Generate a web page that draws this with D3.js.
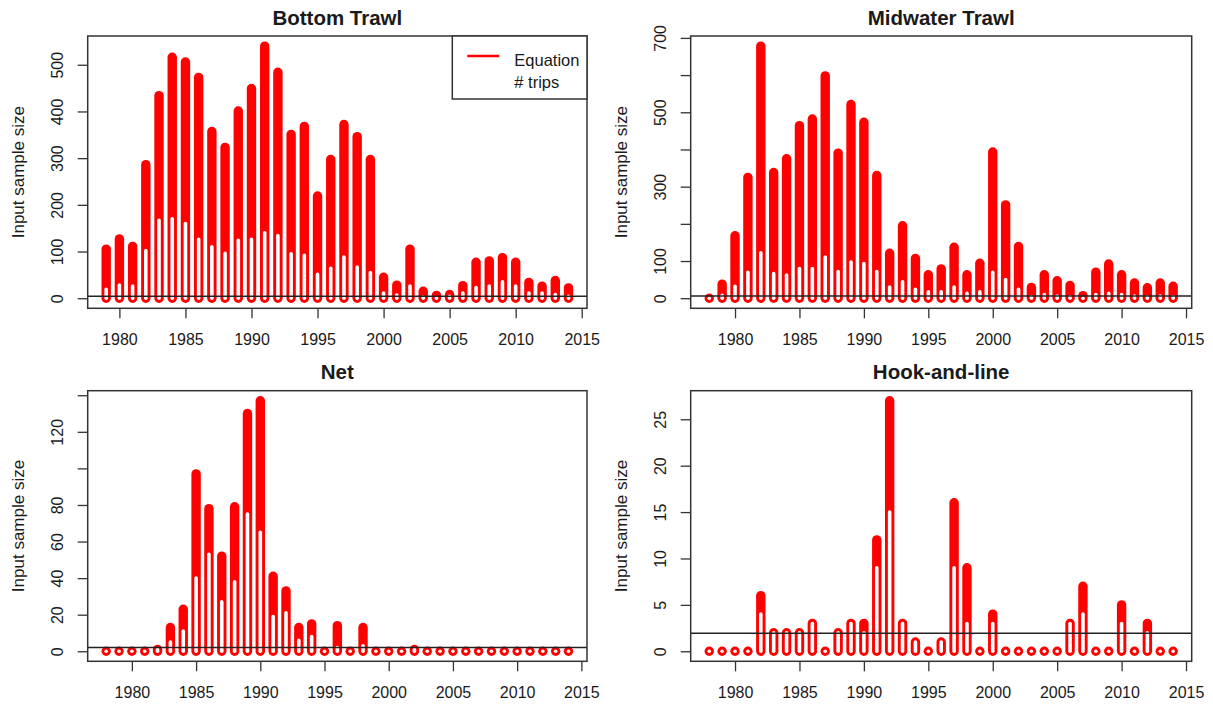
<!DOCTYPE html>
<html lang="en">
<head>
  <meta charset="UTF-8">
  <title>Input sample size</title>
  <style>
    body { margin: 0; background: #fff; }
    text { font-family: "Liberation Sans", Arial, sans-serif; fill: #1a1a1a; }
  </style>
</head>
<body>

  <svg id="svg" width="1213" height="706"></svg>

  <script src="https://d3js.org/d3.v7.min.js"></script>
  <script>
    // years (bottom trawl starts one year later)
    const years = [1978, 1979, 1980, 1981, 1982, 1983, 1984, 1985, 1986, 1987, 1988, 1989,
      1990, 1991, 1992, 1993, 1994, 1995, 1996, 1997, 1998, 1999, 2000, 2001, 2002,
      2003, 2004, 2005, 2006, 2007, 2008, 2009, 2010, 2011, 2012, 2013, 2014]
    const bottomYears = years.slice(1)

    const bottomEquation = [105, 127, 111, 286, 434, 516, 506, 473, 357, 323, 401, 449,
      540, 484, 351, 368, 219, 297, 372, 346, 297, 45, 28, 105, 15, 6, 8, 27, 77, 80, 87,
      77, 34, 26, 38, 22]
    const bottomTrips = [19, 28, 26, 102, 167, 170, 160, 126, 110, 96, 124, 126, 140, 134,
      95, 92, 51, 64, 88, 67, 55, 11, 7, 26, 2, 1, 4, 11, 23, 26, 35, 26, 11, 11, 8, 4]

    const midEquation = [0, 38, 168, 325, 678, 338, 375, 464, 482, 598, 390, 521, 473, 330,
      121, 195, 107, 63, 79, 137, 63, 94, 393, 251, 139, 29, 63, 47, 34, 7, 70, 92, 63, 41,
      28, 41, 32]
    const midTrips = [0, 8, 32, 70, 122, 66, 62, 80, 80, 111, 72, 97, 93, 72, 30, 44, 24, 17,
      17, 30, 13, 17, 70, 50, 24, 4, 10, 6, 4, 0, 10, 13, 10, 6, 4, 6, 4]

    const netEquation = [0, 0, 0, 0, 1, 13, 23, 97, 78, 52, 79, 130, 137, 41, 33, 13, 15, 0,
      14, 0, 13, 0, 0, 0, 1, 0, 0, 0, 0, 0, 0, 0, 0, 0, 0, 0, 0]
    const netTrips = [0, 0, 0, 0, 1, 5, 11, 40, 53, 27, 38, 75, 65, 19, 21, 6, 8, 0, 2, 0, 3,
      0, 0, 0, 1, 0, 0, 0, 0, 0, 0, 0, 0, 0, 0, 0, 0]

    const hookEquation = [0, 0, 0, 0, 6, 2, 2, 2, 3, 0, 2, 3, 3, 12, 27, 3, 1, 0, 1, 16, 9,
      0, 4, 0, 0, 0, 0, 0, 3, 7, 0, 0, 5, 0, 3, 0, 0]
    const hookTrips = [0, 0, 0, 0, 4, 2, 2, 2, 3, 0, 2, 3, 2, 9, 15, 3, 1, 0, 1, 9, 3, 0, 3,
      0, 0, 0, 0, 0, 3, 4, 0, 0, 3, 0, 2, 0, 0]

    // horizontal reference lines
    const refLines = [4, 6, 2, 1.95]

    // axis ticks and labels
    const xTicks = [1980, 1985, 1990, 1995, 2000, 2005, 2010, 2015]
    const bottomTicks = [0, 100, 200, 300, 400, 500]
    const bottomLabels = [0, 100, 200, 300, 400, 500]
    const midTicks = [0, 100, 200, 300, 400, 500, 600, 700]
    const midLabels = [0, 100, 300, 500, 700]
    const netTicks = [0, 20, 40, 60, 80, 100, 120, 140]
    const netLabels = [0, 20, 40, 60, 80, 120]
    const hookTicks = [0, 5, 10, 15, 20, 25]
    const hookLabels = [0, 5, 10, 15, 20, 25]

    const titles = ['Bottom Trawl', 'Midwater Trawl', 'Net', 'Hook-and-line']
    const legendLabels = ['Equation', '# trips']

    const panels = [
      { years: bottomYears, eq: bottomEquation, trips: bottomTrips, ticks: bottomTicks, labels: bottomLabels,
        box: [87.7, 587, 36, 308.3], legend: true },
      { years: years, eq: midEquation, trips: midTrips, ticks: midTicks, labels: midLabels,
        box: [690.7, 1191.7, 36, 308.3] },
      { years: years, eq: netEquation, trips: netTrips, ticks: netTicks, labels: netLabels,
        box: [87.7, 587, 390.7, 661.3] },
      { years: years, eq: hookEquation, trips: hookTrips, ticks: hookTicks, labels: hookLabels,
        box: [690.7, 1191.7, 390.7, 661.3] }
    ]

    const svg = d3.select('#svg')
    svg.append('rect').attr('width', 1213).attr('height', 706).attr('fill', 'white')

    const redR = 4.7
    const whiteR = 1.8
    const font = '"Liberation Sans", Arial, sans-serif'

    panels.forEach((p, i) => {
      const [left, right, top, bottom] = p.box
      const g = svg.append('g')

      const xExt = d3.extent(p.years)
      const xPad = (xExt[1] - xExt[0]) * 0.04
      const x = d3.scaleLinear().domain([xExt[0] - xPad, xExt[1] + xPad]).range([left, right])
      const yMax = d3.max(p.eq)
      const y = d3.scaleLinear().domain([-0.04 * yMax, 1.04 * yMax]).range([bottom, top])

      const rows = p.years.map((yr, j) => ({ yr: yr, eq: p.eq[j], trips: p.trips[j] }))

      // thick red bars (equation) with round ends
      g.selectAll('rect.eq')
        .data(rows)
        .enter()
        .append('rect')
        .attr('class', 'eq')
        .attr('x', d => x(d.yr) - redR)
        .attr('y', d => y(d.eq) - redR)
        .attr('width', 2 * redR)
        .attr('height', d => y(0) - y(d.eq) + 2 * redR)
        .attr('rx', redR)
        .attr('fill', '#ff0000')

      // thin white bars (# trips)
      g.selectAll('rect.trips')
        .data(rows)
        .enter()
        .append('rect')
        .attr('class', 'trips')
        .attr('x', d => x(d.yr) - whiteR)
        .attr('y', d => y(d.trips) - whiteR)
        .attr('width', 2 * whiteR)
        .attr('height', d => y(0) - y(d.trips) + 2 * whiteR)
        .attr('rx', whiteR)
        .attr('fill', 'white')

      g.append('line')
        .attr('x1', left).attr('x2', right)
        .attr('y1', y(refLines[i])).attr('y2', y(refLines[i]))
        .attr('stroke', '#222')
        .attr('stroke-width', 1.5)

      // x axis
      const xa = g.append('g')
        .attr('transform', `translate(0,${bottom})`)
        .call(d3.axisBottom(x).tickValues(xTicks).tickSize(10).tickPadding(15).tickFormat(d3.format('d')))
      xa.select('.domain').remove()
      xa.selectAll('line').attr('stroke', '#333').attr('stroke-width', 1.3)
      xa.selectAll('text').attr('font-size', '16px').attr('fill', '#1a1a1a')
        .style('font-family', font)

      // y axis, labels rotated like R
      const ya = g.append('g')
        .attr('transform', `translate(${left},0)`)
        .call(d3.axisLeft(y).tickValues(p.ticks).tickSize(10)
          .tickFormat(d => p.labels.includes(d) ? d : ''))
      ya.select('.domain').remove()
      ya.selectAll('line').attr('stroke', '#333').attr('stroke-width', 1.3)
      ya.selectAll('text')
        .attr('x', 0).attr('y', -30.5).attr('dy', '0.36em')
        .attr('transform', 'rotate(-90)')
        .attr('text-anchor', 'middle')
        .attr('font-size', '16px').attr('fill', '#1a1a1a')
        .style('font-family', font)

      // plot box
      g.append('rect')
        .attr('x', left).attr('y', top)
        .attr('width', right - left).attr('height', bottom - top)
        .attr('fill', 'none')
        .attr('stroke', '#333')
        .attr('stroke-width', 1.5)

      g.append('text')
        .attr('x', (left + right) / 2)
        .attr('y', top - 11.5)
        .attr('text-anchor', 'middle')
        .attr('font-size', '20.5px')
        .attr('font-weight', 'bold')
        .text(titles[i])

      g.append('text')
        .attr('transform', `translate(${left - 64},${(top + bottom) / 2}) rotate(-90)`)
        .attr('text-anchor', 'middle')
        .attr('font-size', '17px')
        .text('Input sample size')

      if (p.legend) {
        const lx = 452.3, ly = top
        const lg = g.append('g')
        lg.append('rect')
          .attr('x', lx).attr('y', ly)
          .attr('width', right - lx).attr('height', 63)
          .attr('fill', 'white').attr('stroke', '#333').attr('stroke-width', 1.5)
        lg.append('line')
          .attr('x1', lx + 15).attr('x2', lx + 47)
          .attr('y1', ly + 20).attr('y2', ly + 20)
          .attr('stroke', '#ff0000').attr('stroke-width', 2.7)
        lg.selectAll('text.leg')
          .data(legendLabels)
          .enter()
          .append('text')
          .attr('class', 'leg')
          .attr('x', lx + 62)
          .attr('y', (d, k) => ly + 30 + k * 21.7)
          .attr('font-size', '16.5px')
          .text(d => d)
      }
    })
  </script>
</body>
</html>
